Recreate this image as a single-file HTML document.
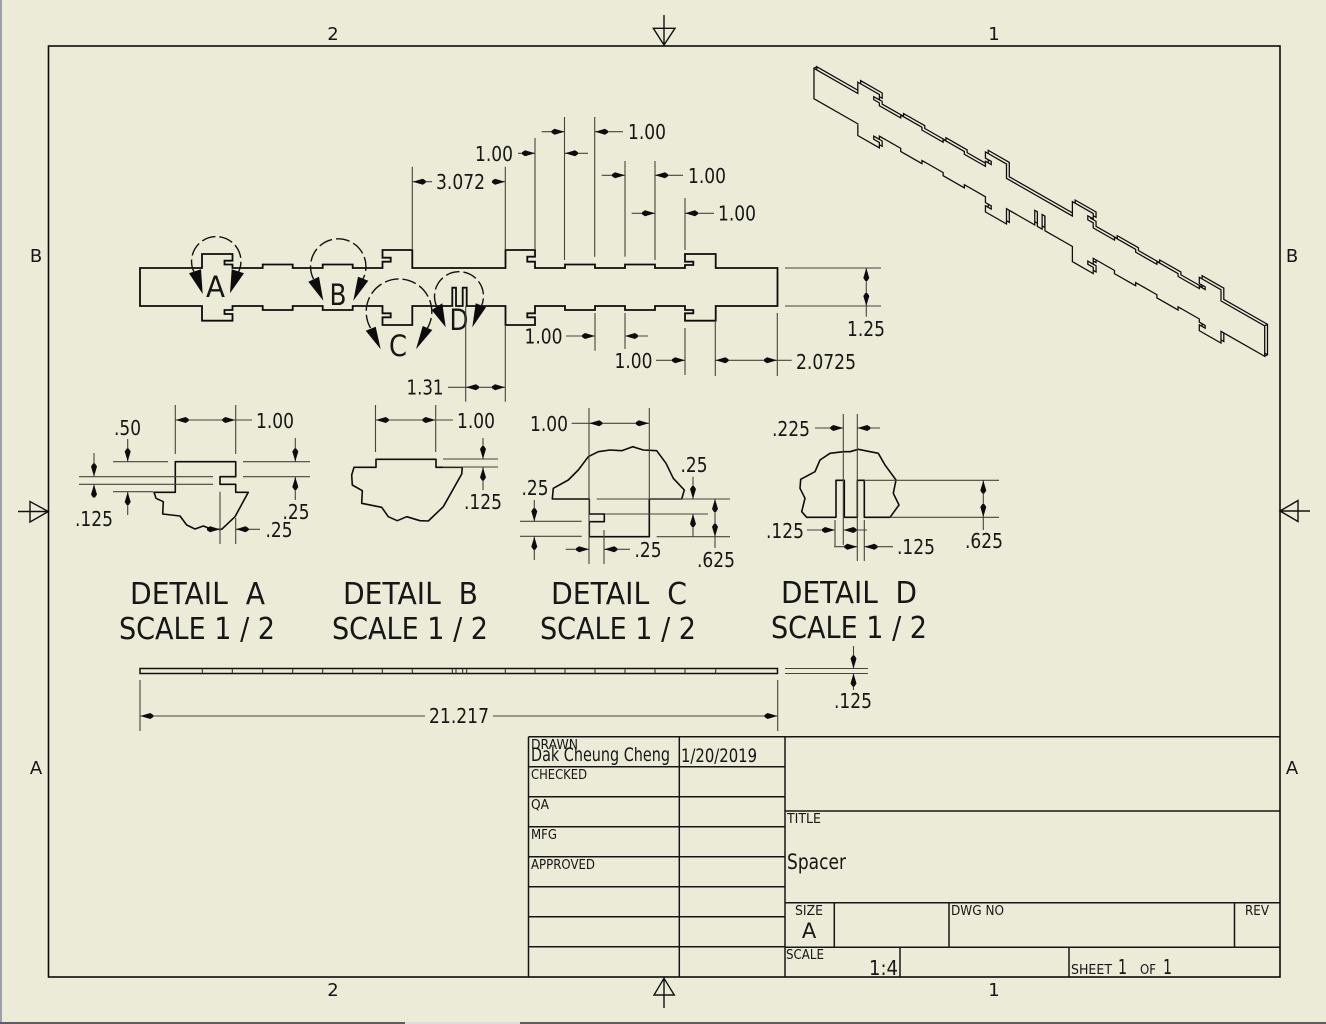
<!DOCTYPE html>
<html><head><meta charset="utf-8"><title>Spacer</title>
<style>
html,body{margin:0;padding:0;background:#ecebd7;width:1326px;height:1024px;overflow:hidden}
svg{display:block;position:absolute;left:0;top:0}
text{font-family:"DejaVu Sans","Liberation Sans",sans-serif;fill:#161616}
.d{font-size:20.5px;text-anchor:middle}
.z{font-size:18px;text-anchor:middle}
.h{font-size:30px;text-anchor:middle}
.l{font-size:29px;text-anchor:middle}
.s{font-size:13px}
.m{font-size:19px}
</style></head><body>
<svg width="1326" height="1024" viewBox="0 0 1326 1024" xmlns="http://www.w3.org/2000/svg">
<defs>
<polygon id="ar" points="0,0 -10,-3 -13,-1 -13,1 -10,3" fill="#0c0c0c"/>
<polygon id="al" points="0,0 10,-3 13,-1 13,1 10,3" fill="#0c0c0c"/>
<polygon id="au" points="0,0 -3,10 -1,13 1,13 3,10" fill="#0c0c0c"/>
<polygon id="ad" points="0,0 -3,-10 -1,-13 1,-13 3,-10" fill="#0c0c0c"/>
<path id="o" d="M140 268H202V254H232.5V260.7H224.5V264.5H232.5V268H262.7V264.5H292.7V268H322.7V264.5H352.7V268H382.5V261.7H390.7V257.7H382.5V250H412.3V268H505.5V250H535V256.7H527.3V261.7H535V268H565V264.5H595V268H625V264.5H655V268H685V265H693.3V261.7H685V254H715.7V268H777.5V306H715.7V320.7H685V313.3H693.3V310H685V306H655V310H625V306H595V310H565V306H535V313.3H527.3V317.3H535V325H505.5V306H466.7V287.7H462.7V306H456V287.7H452.3V306H412.3V325H382.5V317.3H390.7V313.3H382.5V306H352.7V310H322.7V306H292.7V310H262.7V306H232.5V310H224.5V314H232.5V320.7H202V306H140Z"/>
</defs>

<rect x="0" y="0" width="1326" height="1024" fill="#ecebd7"/>
<rect x="0" y="0" width="2" height="1024" fill="#9c9eaa"/>
<rect x="0" y="1022" width="1326" height="2" fill="#5c5c68"/>
<rect x="405" y="1022" width="115" height="2" fill="#dcdce8"/>

<!-- border -->
<rect x="48.5" y="46" width="1231.5" height="931" fill="none" stroke="#0c0c0c" stroke-width="1.6"/>
<path d="M664 15V45M653.3 28.3H675L664 45ZM664 1008V978.3M654 995H674.3L664 978.3ZM18 511.5H48.3M30 501.5V522L48.3 511.5ZM1310 511H1280M1298 500.5V521.5L1280 511Z" fill="none" stroke="#111" stroke-width="1.4"/>
<text class="z" x="333" y="40">2</text><text class="z" x="994" y="40">1</text>
<text class="z" x="333" y="996">2</text><text class="z" x="994" y="996">1</text>
<text class="z" x="36" y="262">B</text><text class="z" x="1292" y="262">B</text>
<text class="z" x="36" y="774">A</text><text class="z" x="1292" y="774">A</text>

<!-- main view -->
<use href="#o" fill="none" stroke="#0c0c0c" stroke-width="1.8"/>

<!-- iso view -->
<g stroke="#0c0c0c" fill="#ecebd7">
<use href="#o" transform="matrix(.707 .404 0 .8 717.8 -204.2)" style="stroke-width:1.8"/>
<path d="M814 68.3L816.8 66.7M1264.7 325.8L1267.5 324.2M1264.7 356.2L1267.5 354.6" fill="none" stroke-width="1.3"/>
<use href="#o" transform="matrix(.707 .404 0 .8 715 -202.6)" style="stroke-width:1.8"/>
</g>

<!-- section circles -->
<g fill="none" stroke="#111" stroke-width="1.4" stroke-dasharray="14 4">
<path d="M194.5 273A24.7 24.7 0 1 1 238 273"/>
<path d="M313.5 279A27.7 27.7 0 1 1 363 279"/>
<path d="M370.5 328A32.8 32.8 0 1 1 427.5 328"/>
<path d="M437 307A24.5 24.5 0 1 1 481 307"/>
</g>
<g fill="#0c0c0c">
<polygon points="189,273.3 201,269.3 202.7,294"/><polygon points="244,273.3 231.7,269.3 230,293.3"/>
<polygon points="308.3,281.7 319,276.7 323.3,300.7"/><polygon points="368.3,280.7 358,276.7 353.3,300.7"/>
<polygon points="365.7,330.7 375.7,326.7 380.7,349.3"/><polygon points="432.3,330 422.7,326 416,349.3"/>
<polygon points="431.7,310 442.3,303.3 445.7,327.3"/><polygon points="486,307.3 475.7,303.3 472.3,327.3"/>
</g>
<text class="l" x="215.5" y="297" textLength="19" lengthAdjust="spacingAndGlyphs">A</text>
<text class="l" x="338" y="305" textLength="17" lengthAdjust="spacingAndGlyphs">B</text>
<text class="l" x="398" y="356" textLength="18" lengthAdjust="spacingAndGlyphs">C</text>
<text class="l" x="459" y="330" textLength="19" lengthAdjust="spacingAndGlyphs">D</text>

<!-- detail outlines -->
<g fill="none" stroke="#0c0c0c" stroke-width="1.6" stroke-linejoin="round">
<path d="M154 492.3H175.3V461.7H235.7V476.7H220V484.3H235.7V492.3H248.3L235 516.7 221.7 529.3H211.7L203.3 526 195 529 186.7 525 180 516 162.7 514 163.3 501.7 156 498.3Z"/>
<path d="M354 467.3H376V459.3H436V467.3H462.3L461.7 474 443.3 506.7 428.3 521 420 520.7 406.7 516.7 397.3 520.7 388.3 516.7 381.7 507.3 361.7 503.3 362.3 490.7 352.3 485 351.7 475Z"/>
<path d="M552.3 499H589.3V514H604.3V521.7H589.3V536.7H649.3V499H681.7L684.3 490 673.3 478.3 666 463.3 656.7 450.7 643.3 450 632.7 446.7 621.7 450.7 610 450 598.3 451.7 588.3 456.7 578.3 470 568.3 480 553.3 488.3Z"/>
<path d="M806.7 517.3H836V480.3H844.3V517.3H857.3V480.3H864.3V517.3H890L899 505 893.3 493.3 896 480 885 465 878.3 453.3 858.3 449.3 850 451.7 843.3 451.7 830 453.3 820 460 815 471.7 800.7 479.3 800 488.3 805 498.3 801.7 511.7Z"/>
</g>

<!-- dimension lines -->
<g fill="none" stroke="#45453d" stroke-width="1.1">
<!-- main -->
<path d="M412.3 166.7V250M505.3 166.7V250M505.3 325V401.7M412.3 181.7H432M493 181.7H505.3"/>
<path d="M535 138V250M518 153.3H535M564.5 117V260M564.5 153.3H588M541.7 131.7H564.5M594.7 117V256.7M594.7 131.7H623"/>
<path d="M625 161V256.7M655 161V260M601.7 175.3H625M655 175.3H683M631.7 213.3H655M685 198V250M685 213.3H714"/>
<path d="M595 313V350.7M625 313V349M566 336H595M625 336H648M656 360.3H685M685 328V375M715.3 322V376M777.3 313V376M715.3 360.3H791.7"/>
<path d="M785 268H881M785 306H881M866.3 268V316.7M465.7 306V401.7M448 387.3H505.3"/>
<!-- A -->
<path d="M175.3 405V454M235.7 405V454M175.7 420H252M113 461.7H168M113 491.7H153M127.7 439V461.7M127.7 491.7V515M79 476.7H213M79 484.3H213M94 453V476.7M94 484.3V497M243 461.7H310M243 476.7H310M295.3 438V461.7M295.3 476.7V500M220 491.7V544M235.7 518V544M208 529.3H220M235.7 529.3H260"/>
<!-- B -->
<path d="M375.5 405V452M435.7 405V452M375.5 420H453M443 459H498M443 467H498M483 438V459M483 467.3V490"/>
<!-- C -->
<path d="M589 408V564M649.3 408V499M571.7 423.3H649M520 521.3H581.7M520 536.3H581.7M534.3 500V521.3M534.3 536.7V560M596.7 499H730M605 514H708M656.7 536.7H730M693 476.7V499M693 514V537M715 499V548M604 530V564M565.7 549.3H589M604 549.3H630"/>
<!-- D -->
<path d="M843.3 414V545M857.3 414V561M815 428H843.3M857.3 428H880M864 480.3H999M890 517.3H999M983.3 480.3V530M835 520V546M864.3 520V561M807 530H835M843.3 530H867M834 546.7H857.3M864.3 546.7H893"/>
<!-- edge -->
<path d="M140 680V731M777.7 680V731M140 716H425M493 716H777.7M785 668.5H868M785 673.5H868M853.5 646V668.5M853.5 673.5V690"/>
</g>

<!-- edge view -->
<rect x="140" y="668.5" width="637.5" height="5" fill="none" stroke="#111" stroke-width="1.5"/>
<path d="M202.3 668V674M232.3 668V674M262.7 668V674M292.7 668V674M322.7 668V674M352.7 668V674M382.3 668V674M412.3 668V674M452.3 668V674M456 668V674M462.7 668V674M466.7 668V674M505.3 668V674M535 668V674M565 668V674M595 668V674M625 668V674M655 668V674M685 668V674M715.7 668V674" stroke="#222" stroke-width="1" fill="none"/>

<!-- arrows -->
<use href="#al" x="412.8" y="181.7"/><use href="#ar" x="505" y="181.7"/>
<use href="#ar" x="535" y="153.3"/><use href="#al" x="565" y="153.3"/>
<use href="#ar" x="564.5" y="131.7"/><use href="#al" x="595" y="131.7"/>
<use href="#ar" x="625" y="175.3"/><use href="#al" x="655" y="175.3"/>
<use href="#ar" x="655" y="213.3"/><use href="#al" x="685" y="213.3"/>
<use href="#ar" x="595" y="336"/><use href="#al" x="625" y="336"/>
<use href="#ar" x="685" y="360.3"/><use href="#al" x="715.5" y="360.3"/><use href="#ar" x="777" y="360.3"/>
<use href="#au" x="866.3" y="268"/><use href="#ad" x="866.3" y="306"/>
<use href="#al" x="466" y="387.3"/><use href="#ar" x="505" y="387.3"/>
<use href="#al" x="175.7" y="420"/><use href="#ar" x="235.3" y="420"/>
<use href="#ad" x="127.7" y="461.5"/><use href="#au" x="127.7" y="492"/>
<use href="#ad" x="94" y="476.5"/><use href="#au" x="94" y="484.5"/>
<use href="#ad" x="295.3" y="461.5"/><use href="#au" x="295.3" y="477"/>
<use href="#ar" x="220" y="529.3"/><use href="#al" x="235.7" y="529.3"/>
<use href="#al" x="375.8" y="420"/><use href="#ar" x="435.5" y="420"/>
<use href="#ad" x="483" y="459"/><use href="#au" x="483" y="467.5"/>
<use href="#al" x="589.3" y="423.3"/><use href="#ar" x="648.8" y="423.3"/>
<use href="#ad" x="534.3" y="521.3"/><use href="#au" x="534.3" y="536.7"/>
<use href="#ad" x="693" y="499"/><use href="#au" x="693" y="514"/>
<use href="#au" x="715" y="499"/><use href="#ad" x="715" y="536.7"/>
<use href="#ar" x="589" y="549.3"/><use href="#al" x="604.3" y="549.3"/>
<use href="#ar" x="843.3" y="428"/><use href="#al" x="857.3" y="428"/>
<use href="#au" x="983.3" y="480.5"/><use href="#ad" x="983.3" y="517"/>
<use href="#ar" x="835" y="530"/><use href="#al" x="843.5" y="530"/>
<use href="#ar" x="857.3" y="546.7"/><use href="#al" x="864.5" y="546.7"/>
<use href="#al" x="140.3" y="716"/><use href="#ar" x="777.5" y="716"/>
<use href="#ad" x="853.5" y="668.5"/><use href="#au" x="853.5" y="673.5"/>

<!-- dimension text -->
<g>
<text class="d" x="494" y="161" textLength="38" lengthAdjust="spacingAndGlyphs">1.00</text>
<text class="d" x="460.5" y="189" textLength="49" lengthAdjust="spacingAndGlyphs">3.072</text>
<text class="d" x="647" y="139" textLength="38" lengthAdjust="spacingAndGlyphs">1.00</text>
<text class="d" x="707" y="183" textLength="38" lengthAdjust="spacingAndGlyphs">1.00</text>
<text class="d" x="737" y="220.5" textLength="38" lengthAdjust="spacingAndGlyphs">1.00</text>
<text class="d" x="543.5" y="343.5" textLength="38" lengthAdjust="spacingAndGlyphs">1.00</text>
<text class="d" x="633.5" y="368" textLength="38" lengthAdjust="spacingAndGlyphs">1.00</text>
<text class="d" x="826" y="369" textLength="60" lengthAdjust="spacingAndGlyphs">2.0725</text>
<text class="d" x="866" y="336" textLength="38" lengthAdjust="spacingAndGlyphs">1.25</text>
<text class="d" x="425" y="394.5" textLength="37" lengthAdjust="spacingAndGlyphs">1.31</text>
<text class="d" x="275" y="428" textLength="38" lengthAdjust="spacingAndGlyphs">1.00</text>
<text class="d" x="127.5" y="435" textLength="27" lengthAdjust="spacingAndGlyphs">.50</text>
<text class="d" x="94" y="526" textLength="38" lengthAdjust="spacingAndGlyphs">.125</text>
<text class="d" x="296" y="519" textLength="27" lengthAdjust="spacingAndGlyphs">.25</text>
<text class="d" x="279" y="537" textLength="27" lengthAdjust="spacingAndGlyphs">.25</text>
<text class="d" x="476" y="428" textLength="38" lengthAdjust="spacingAndGlyphs">1.00</text>
<text class="d" x="483" y="509" textLength="38" lengthAdjust="spacingAndGlyphs">.125</text>
<text class="d" x="549" y="431" textLength="38" lengthAdjust="spacingAndGlyphs">1.00</text>
<text class="d" x="535" y="495" textLength="27" lengthAdjust="spacingAndGlyphs">.25</text>
<text class="d" x="694" y="472" textLength="27" lengthAdjust="spacingAndGlyphs">.25</text>
<text class="d" x="716" y="567" textLength="38" lengthAdjust="spacingAndGlyphs">.625</text>
<text class="d" x="648" y="557" textLength="27" lengthAdjust="spacingAndGlyphs">.25</text>
<text class="d" x="791" y="436" textLength="38" lengthAdjust="spacingAndGlyphs">.225</text>
<text class="d" x="984" y="548" textLength="38" lengthAdjust="spacingAndGlyphs">.625</text>
<text class="d" x="785" y="538" textLength="38" lengthAdjust="spacingAndGlyphs">.125</text>
<text class="d" x="916" y="554" textLength="38" lengthAdjust="spacingAndGlyphs">.125</text>
<text class="d" x="459" y="723" textLength="60" lengthAdjust="spacingAndGlyphs">21.217</text>
<text class="d" x="853" y="708" textLength="38" lengthAdjust="spacingAndGlyphs">.125</text>
</g>

<!-- detail labels -->
<text class="h" x="197.5" y="604" textLength="135" lengthAdjust="spacingAndGlyphs" xml:space="preserve">DETAIL  A</text>
<text class="h" x="197" y="639" textLength="156" lengthAdjust="spacingAndGlyphs">SCALE 1 / 2</text>
<text class="h" x="410.5" y="604" textLength="135" lengthAdjust="spacingAndGlyphs" xml:space="preserve">DETAIL  B</text>
<text class="h" x="410" y="639" textLength="156" lengthAdjust="spacingAndGlyphs">SCALE 1 / 2</text>
<text class="h" x="619" y="604" textLength="136" lengthAdjust="spacingAndGlyphs" xml:space="preserve">DETAIL  C</text>
<text class="h" x="618" y="639" textLength="156" lengthAdjust="spacingAndGlyphs">SCALE 1 / 2</text>
<text class="h" x="849" y="603" textLength="136" lengthAdjust="spacingAndGlyphs" xml:space="preserve">DETAIL  D</text>
<text class="h" x="849" y="638" textLength="156" lengthAdjust="spacingAndGlyphs">SCALE 1 / 2</text>

<!-- title block -->
<path d="M528.5 736.7H1280M528.5 766.7H785M528.5 796.7H785M528.5 826.7H785M528.5 856.7H785M528.5 886.7H785M528.5 916.7H785M528.5 946.7H785M528.5 736.7V977M679.3 736.7V977M785 736.7V977M785 811H1280M785 902.7H1280M785 947.3H1280M834.3 902.7V947.3M949 902.7V947.3M1234.5 902.7V947.3M900 947.3V977M1069 947.3V977" fill="none" stroke="#161616" stroke-width="1.5"/>
<text class="s" x="531" y="749" textLength="47" lengthAdjust="spacingAndGlyphs">DRAWN</text>
<text class="m" x="531" y="761" textLength="139" lengthAdjust="spacingAndGlyphs">Dak Cheung Cheng</text>
<text class="m" x="681" y="762" textLength="76" lengthAdjust="spacingAndGlyphs">1/20/2019</text>
<text class="s" x="531" y="779" textLength="56" lengthAdjust="spacingAndGlyphs">CHECKED</text>
<text class="s" x="531" y="809" textLength="18" lengthAdjust="spacingAndGlyphs">QA</text>
<text class="s" x="531" y="839" textLength="26" lengthAdjust="spacingAndGlyphs">MFG</text>
<text class="s" x="531" y="869" textLength="64" lengthAdjust="spacingAndGlyphs">APPROVED</text>
<text class="s" x="787" y="823" textLength="34" lengthAdjust="spacingAndGlyphs">TITLE</text>
<text x="787" y="869" font-size="21" textLength="59" lengthAdjust="spacingAndGlyphs">Spacer</text>
<text class="s" x="795" y="915" textLength="28" lengthAdjust="spacingAndGlyphs">SIZE</text>
<text x="809" y="938" font-size="21" text-anchor="middle">A</text>
<text class="s" x="951" y="915" textLength="53" lengthAdjust="spacingAndGlyphs">DWG NO</text>
<text class="s" x="1245" y="915" textLength="24" lengthAdjust="spacingAndGlyphs">REV</text>
<text class="s" x="786" y="959" textLength="38" lengthAdjust="spacingAndGlyphs">SCALE</text>
<text x="869" y="975" font-size="20" textLength="29" lengthAdjust="spacingAndGlyphs">1:4</text>
<text class="s" x="1071" y="974" textLength="41" lengthAdjust="spacingAndGlyphs">SHEET</text>
<text x="1118" y="974" font-size="20" textLength="9" lengthAdjust="spacingAndGlyphs">1</text>
<text class="s" x="1140" y="974" textLength="16" lengthAdjust="spacingAndGlyphs">OF</text>
<text x="1163" y="974" font-size="20" textLength="9" lengthAdjust="spacingAndGlyphs">1</text>
</svg>
</body></html>
